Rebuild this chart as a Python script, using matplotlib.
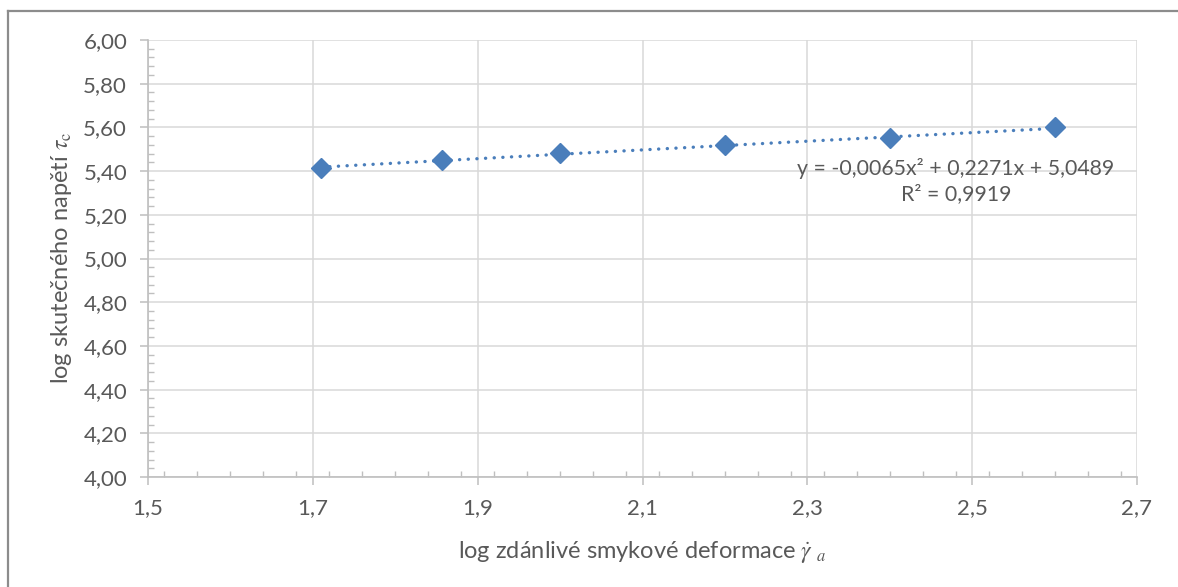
import matplotlib
matplotlib.use("Agg")
import matplotlib.pyplot as plt
import numpy as np
from matplotlib.ticker import MultipleLocator, FuncFormatter
from matplotlib.lines import Line2D

# ---- data ----
log_shear_rate = [1.71, 1.857, 2.0, 2.2, 2.4, 2.6]
log_stress = [5.415, 5.450, 5.485, 5.518, 5.552, 5.600]
x_ticks = [1.5, 1.7, 1.9, 2.1, 2.3, 2.5, 2.7]
y_ticks = [4.0, 4.2, 4.4, 4.6, 4.8, 5.0, 5.2, 5.4, 5.6, 5.8, 6.0]
trend_coeffs = [-0.0065, 0.2271, 5.0489]
equation_text = "y = -0,0065x² + 0,2271x + 5,0489\nR² = 0,9919"
x_label = r"log zdánlivé smykové deformace $\dot{\gamma}\ _{a}$"
y_label = r"log skutečného napětí $\tau_{\mathrm{c}}$"

plt.rcParams['font.family'] = ['Lato', 'DejaVu Sans']
plt.rcParams['mathtext.fontset'] = 'stix'

W, H = 1178, 587
fig = plt.figure(figsize=(W / 100, H / 100), dpi=100)
fig.patch.set_facecolor('white')

# outer frame (left and top visible)
fig.add_artist(Line2D([8 / W, 8 / W], [0, 1 - 11 / H], transform=fig.transFigure,
                      color='#8c8c8c', lw=1.6))
fig.add_artist(Line2D([8 / W, 1], [1 - 11 / H, 1 - 11 / H], transform=fig.transFigure,
                      color='#8c8c8c', lw=1.6))

L, R, T, B = 148, 1137, 40, 477
ax = fig.add_axes([L / W, (H - B) / H, (R - L) / W, (B - T) / H])

text_col = '#595959'
blue = '#4a7ebb'

# trendline
xs = np.linspace(min(log_shear_rate), max(log_shear_rate), 200)
ys = np.polyval(trend_coeffs, xs)
ax.plot(xs, ys, color=blue, lw=2.4, linestyle=(0, (0.05, 2.55)),
        dash_capstyle='round', zorder=3)

ax.plot(log_shear_rate, log_stress, linestyle='none', marker='D',
        markersize=10.3, color=blue, markeredgecolor=blue, zorder=4)

ax.set_xlim(1.5, 2.7)
ax.set_ylim(4.0, 6.0)
ax.set_xticks(x_ticks)
ax.set_yticks(y_ticks)
ax.xaxis.set_minor_locator(MultipleLocator(0.04))
ax.yaxis.set_minor_locator(MultipleLocator(0.04))
ax.xaxis.set_major_formatter(FuncFormatter(lambda v, p: f"{v:.1f}".replace('.', ',')))
ax.yaxis.set_major_formatter(FuncFormatter(lambda v, p: f"{v:.2f}".replace('.', ',')))

ax.grid(True, which='major', color='#d9d9d9', lw=1.1, zorder=0)
ax.set_axisbelow(True)
for s in ['top', 'right']:
    ax.spines[s].set_visible(False)
for s in ['left', 'bottom']:
    ax.spines[s].set_color('#bfbfbf')
    ax.spines[s].set_linewidth(1.2)

ax.tick_params(which='major', direction='out', length=6, width=1.1, color='#bfbfbf',
               labelsize=16, labelcolor=text_col)
ax.tick_params(axis='y', which='major', pad=9)
ax.tick_params(axis='x', which='major', pad=9)
ax.tick_params(which='minor', direction='in', length=4, width=1.0, color='#bfbfbf')

fig.text(((L + R) / 2) / W, 1 - 552 / H, x_label, ha='center', va='center',
         fontsize=17, color=text_col)
fig.text(62 / W, 1 - 258 / H, y_label, ha='center', va='center', rotation=90,
         fontsize=17, color=text_col)

t = ax.text(0, 0, equation_text, transform=None, ha='center', va='center',
            multialignment='center', fontsize=15.3, color=text_col, linespacing=1.3)
t.set_position((956, H - 181))

fig.savefig('out.png', dpi=100, facecolor='white')
